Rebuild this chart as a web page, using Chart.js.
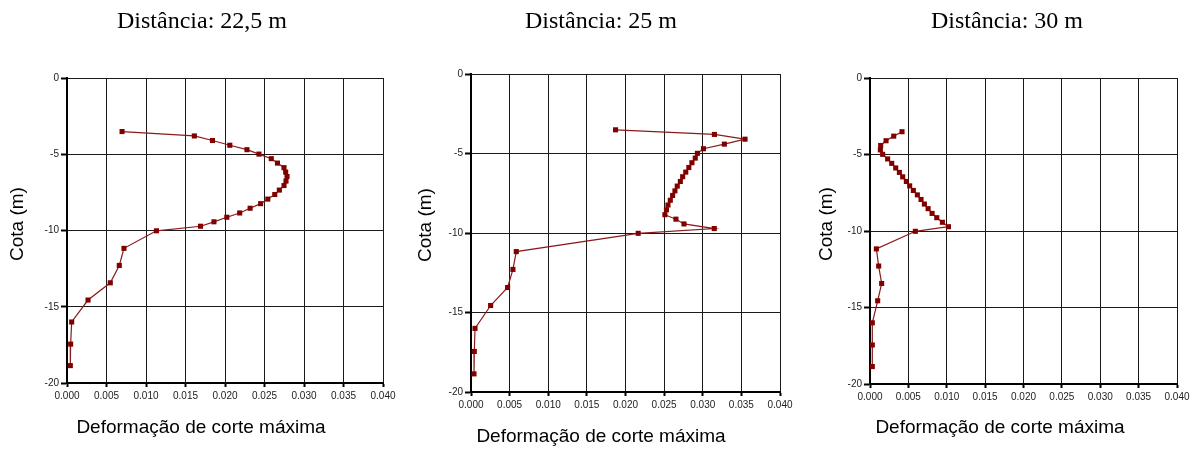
<!DOCTYPE html>
<html>
<head>
<meta charset="utf-8">
<title>Deformação de corte máxima</title>
<script src="https://cdn.jsdelivr.net/npm/chart.js@4.4.1/dist/chart.umd.min.js"></script>
<style>
  body { margin: 0; background: #fff; }
  canvas.panel { position: absolute; top: 0; }
</style>
</head>
<body>
<canvas id="dist225" class="panel" width="400" height="450" style="left:0px"></canvas>
<canvas id="dist25" class="panel" width="400" height="450" style="left:400px"></canvas>
<canvas id="dist30" class="panel" width="395" height="450" style="left:800px"></canvas>
<script>
// cota of each layer (m)
const cota = [-3.51, -3.80, -4.10, -4.41, -4.70, -4.99, -5.29, -5.58, -5.88, -6.17,
              -6.46, -6.76, -7.05, -7.35, -7.64, -7.94, -8.24, -8.54, -8.85, -9.13,
              -9.43, -9.72, -10.02, -11.17, -12.29, -13.43, -14.56, -16.00, -17.45, -18.86];

// max shear strain at each cota, one array per distance
const strain225 = [0.00697, 0.01612, 0.01841, 0.02061, 0.02278, 0.02430, 0.02586, 0.02664, 0.02747, 0.02768,
                   0.02785, 0.02772, 0.02747, 0.02688, 0.02630, 0.02542, 0.02451, 0.02318, 0.02186, 0.02023,
                   0.01860, 0.01690, 0.01132, 0.00721, 0.00662, 0.00548, 0.00266, 0.00059, 0.00046, 0.00042];
const strain25 = [0.01871, 0.03151, 0.03547, 0.03280, 0.03009, 0.02931, 0.02903, 0.02860, 0.02820, 0.02780,
                  0.02740, 0.02710, 0.02670, 0.02640, 0.02610, 0.02580, 0.02550, 0.02530, 0.02510, 0.02653,
                  0.02757, 0.03149, 0.02164, 0.00586, 0.00543, 0.00474, 0.00254, 0.00052, 0.00043, 0.00039];
const strain30 = [0.00417, 0.00309, 0.00209, 0.00139, 0.00135, 0.00165, 0.00230, 0.00283, 0.00335, 0.00383,
                  0.00426, 0.00474, 0.00517, 0.00565, 0.00617, 0.00665, 0.00709, 0.00757, 0.00809, 0.00870,
                  0.00943, 0.01022, 0.00591, 0.00083, 0.00113, 0.00152, 0.00100, 0.00030, 0.00030, 0.00030];

const xTicks = { min: 0, max: 0.04, step: 0.005 };
const yTicks = { min: -20, max: 0, step: 5 };

const xLabel = 'Deformação de corte máxima';
const yLabel = 'Cota (m)';

// draws the caption above, the x label below and the rotated y label
const captionPlugin = {
  id: 'captions',
  afterDraw(chart, args, o) {
    const ctx = chart.ctx;
    ctx.save();
    ctx.fillStyle = '#000';
    ctx.textAlign = 'center';
    ctx.textBaseline = 'alphabetic';
    ctx.font = '24px "Liberation Serif"';
    ctx.fillText(o.title, o.titlePos[0], o.titlePos[1]);
    ctx.font = '19px "Liberation Sans"';
    ctx.fillText(xLabel, o.xPos[0], o.xPos[1]);
    ctx.translate(o.yPos[0], o.yPos[1]);
    ctx.rotate(-Math.PI / 2);
    ctx.textBaseline = 'middle';
    ctx.fillText(yLabel, 0, 0);
    ctx.restore();
  }
};

const tickFont = { family: '"Liberation Sans", Arial, sans-serif', size: 10 };

function makePanel(id, strain, title, box) {
  const points = cota.map((c, i) => ({ x: strain[i], y: c }));
  return new Chart(document.getElementById(id), {
    type: 'scatter',
    data: {
      datasets: [{
        data: points,
        showLine: true,
        borderColor: '#8b1a1a',
        borderWidth: 1.2,
        pointStyle: 'rect',
        pointRadius: 3.6,
        pointBackgroundColor: '#800000',
        pointBorderWidth: 0
      }]
    },
    options: {
      responsive: false,
      animation: false,
      layout: { padding: { left: 0, right: box.right, top: box.top, bottom: 0 } },
      plugins: {
        legend: { display: false },
        tooltip: { enabled: false },
        captions: { title: title, titlePos: box.titlePos, xPos: box.xPos, yPos: box.yPos }
      },
      scales: {
        x: {
          type: 'linear',
          min: xTicks.min,
          max: xTicks.max,
          afterFit: s => { s.height = box.xh; s.paddingLeft = 0; s.paddingRight = 0; },
          ticks: {
            stepSize: xTicks.step,
            autoSkip: false,
            maxRotation: 0,
            padding: 3,
            color: '#222',
            font: tickFont,
            callback: v => v.toFixed(3)
          },
          grid: { color: '#1a1a1a', lineWidth: 1, tickLength: 4, tickWidth: 2, tickColor: '#000' },
          border: { color: '#000', width: 2 }
        },
        y: {
          type: 'linear',
          min: yTicks.min,
          max: yTicks.max,
          afterFit: s => { s.width = box.yw; s.paddingTop = 0; s.paddingBottom = 0; },
          ticks: {
            stepSize: yTicks.step,
            padding: 2,
            color: '#222',
            font: tickFont,
            callback: v => String(v)
          },
          grid: { color: '#1a1a1a', lineWidth: 1, tickLength: 6, tickWidth: 2, tickColor: '#000' },
          border: { color: '#000', width: 2 }
        }
      }
    },
    plugins: [captionPlugin]
  });
}

makePanel('dist225', strain225, 'Distância: 22,5 m',
  { yw: 67, right: 17, top: 78, xh: 67, titlePos: [202, 28], xPos: [201, 433], yPos: [18, 224] });
makePanel('dist25', strain25, 'Distância: 25 m',
  { yw: 71, right: 20, top: 74, xh: 58, titlePos: [201, 28], xPos: [201, 442], yPos: [26, 225] });
makePanel('dist30', strain30, 'Distância: 30 m',
  { yw: 70, right: 18, top: 78, xh: 66, titlePos: [207, 28], xPos: [200, 433], yPos: [27, 224] });
</script>
</body>
</html>
